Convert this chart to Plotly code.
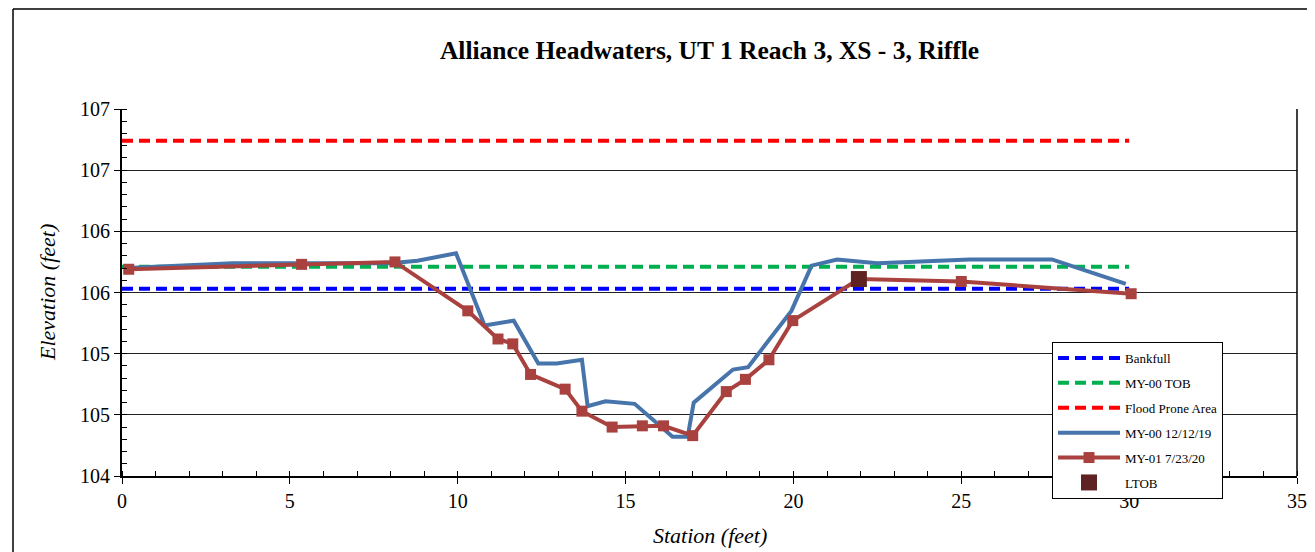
import plotly.graph_objects as go

# ---- data ----
ref_x = [0.0, 30.0]
bankfull_y = [105.53, 105.53]
tob_y = [105.71, 105.71]
flood_y = [106.74, 106.74]

my00_x = [0.15, 3.3, 8.0, 8.8, 9.95, 10.8, 11.67, 12.4, 12.95, 13.7, 13.87, 14.4, 15.27, 16.4, 16.85, 17.03, 18.2, 18.65, 19.94, 20.54, 21.3, 22.5, 25.25, 27.7, 29.9]
my00_y = [105.70, 105.74, 105.74, 105.76, 105.82, 105.23, 105.27, 104.92, 104.92, 104.95, 104.57, 104.61, 104.59, 104.32, 104.32, 104.60, 104.87, 104.89, 105.35, 105.72, 105.77, 105.74, 105.77, 105.77, 105.57]

my01_x = [0.2, 5.35, 8.13, 10.3, 11.2, 11.64, 12.17, 13.2, 13.7, 14.6, 15.5, 16.13, 17.0, 18.0, 18.57, 19.27, 19.98, 21.95, 25.0, 30.06]
my01_y = [105.69, 105.73, 105.75, 105.35, 105.12, 105.08, 104.83, 104.71, 104.53, 104.40, 104.41, 104.41, 104.33, 104.69, 104.79, 104.95, 105.27, 105.61, 105.59, 105.49]

ltob_x = [21.95]
ltob_y = [105.61]

x_ticks = [0, 5, 10, 15, 20, 25, 30, 35]
y_tickvals = [104, 104.5, 105, 105.5, 106, 106.5, 107]
y_ticktext = ["104", "105", "105", "106", "106", "107", "107"]

title_text = "Alliance Headwaters, UT 1 Reach 3, XS - 3, Riffle"
x_title = "Station (feet)"
y_title = "Elevation (feet)"

FONT = "Liberation Serif, Times New Roman, serif"
BLUE = "#4674AB"
RED = "#A9423F"
DASH = "11px,6px"

# page body has an 8px margin, so the figure is laid out 8px smaller/shifted
W, H = 1307, 544
L, T, R, B = 114, 101, 18, 76
PW, PH = W - L - R, H - T - B

def px_x(px):  # screen x -> paper
    return (px - 8 - L) / PW

def px_y(py):  # screen y -> paper
    return (H - B - (py - 8)) / PH

fig = go.Figure()
fig.add_trace(go.Scatter(x=ref_x, y=bankfull_y, mode="lines", name="Bankfull",
                         legendgroup="a", line=dict(color="#0000FF", width=4, dash=DASH)))
fig.add_trace(go.Scatter(x=ref_x, y=tob_y, mode="lines", name="MY-00 TOB",
                         legendgroup="b", line=dict(color="#00B050", width=4, dash=DASH)))
fig.add_trace(go.Scatter(x=ref_x, y=flood_y, mode="lines", name="Flood Prone Area",
                         legendgroup="c", line=dict(color="#FF0000", width=4, dash=DASH)))
fig.add_trace(go.Scatter(x=my00_x, y=my00_y, mode="lines", name="MY-00 12/12/19",
                         legendgroup="d", line=dict(color=BLUE, width=4)))
fig.add_trace(go.Scatter(x=my01_x, y=my01_y, mode="lines+markers", name="MY-01 7/23/20",
                         legendgroup="e", line=dict(color=RED, width=4),
                         marker=dict(symbol="square", size=11, color=RED)))
fig.add_trace(go.Scatter(x=ltob_x, y=ltob_y, mode="markers", name="LTOB",
                         legendgroup="f",
                         marker=dict(symbol="square", size=16, color="#5E2222")))

fig.update_layout(
    width=W, height=H,
    margin=dict(l=L, r=R, t=T, b=B, autoexpand=False),
    paper_bgcolor="white", plot_bgcolor="white",
    font=dict(family=FONT, color="black"),
    title=dict(text="<b>" + title_text + "</b>", x=(L + PW / 2) / W, xanchor="center",
               y=1 - (50 - 8) / H, yanchor="middle", font=dict(size=25.5, family=FONT)),
    showlegend=True,
    legend=dict(x=px_x(1052), y=px_y(342), xanchor="left", yanchor="top",
                bgcolor="white", bordercolor="black", borderwidth=1,
                font=dict(size=13, family=FONT), tracegroupgap=5,
                itemwidth=62),
    xaxis=dict(range=[0, 35], tickvals=x_ticks, ticks="outside", ticklen=6, tickwidth=1,
               tickcolor="black", showline=True, linecolor="black", linewidth=2,
               mirror=False, showgrid=False, zeroline=False, automargin=False,
               tickfont=dict(size=20, family=FONT),
               minor=dict(dtick=1, ticks="inside", ticklen=5, tickcolor="black", showgrid=False)),
    yaxis=dict(range=[104, 107], tickvals=y_tickvals, ticktext=y_ticktext,
               ticks="outside", ticklen=6, tickwidth=1, tickcolor="black",
               showline=True, linecolor="black", linewidth=2, zeroline=False, automargin=False,
               showgrid=True, gridcolor="#222222", gridwidth=1,
               tickfont=dict(size=20, family=FONT),
               minor=dict(dtick=0.1, ticks="inside", ticklen=5, tickcolor="black", showgrid=False)),
    annotations=[
        dict(text="<i>" + x_title + "</i>", xref="paper", yref="paper",
             x=0.5, y=px_y(535), xanchor="center", yanchor="middle", showarrow=False,
             font=dict(size=22, family=FONT)),
        dict(text="<i>" + y_title + "</i>", xref="paper", yref="paper",
             x=px_x(47), y=px_y(293), xanchor="center", yanchor="middle", showarrow=False,
             textangle=-90, font=dict(size=22, family=FONT)),
    ],
    shapes=[
        # right border of plot area
        dict(type="line", xref="paper", yref="paper", x0=1, x1=1, y0=0, y1=1,
             line=dict(color="black", width=1.5)),
        # outer chart frame (left and top edges)
        dict(type="line", xref="paper", yref="paper", x0=px_x(13), x1=px_x(13),
             y0=px_y(560), y1=px_y(9), line=dict(color="black", width=1.5)),
        dict(type="line", xref="paper", yref="paper", x0=px_x(13), x1=px_x(1320),
             y0=px_y(9), y1=px_y(9), line=dict(color="black", width=1.5)),
    ],
)

fig.write_html("out.html")
